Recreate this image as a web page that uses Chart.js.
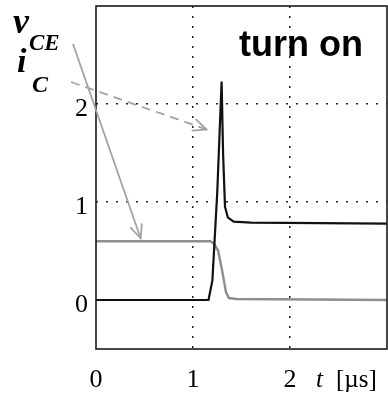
<!DOCTYPE html>
<html>
<head>
<meta charset="utf-8">
<script src="https://cdn.jsdelivr.net/npm/chart.js@4.4.0/dist/chart.umd.min.js"></script>
<style>
  html, body { margin: 0; padding: 0; background: #fff; }
  #wrap { width: 388px; height: 397px; }
</style>
</head>
<body>
<div id="wrap"><canvas id="chart" width="388" height="397"></canvas></div>
<script>
// values (t in microseconds)
const vceTimes = [0, 1.18, 1.22, 1.26, 1.30, 1.34, 1.37, 1.45, 3.0];
const vceValues = [0.6, 0.6, 0.57, 0.5, 0.3, 0.08, 0.02, 0.01, 0.0];
const icTimes = [0, 1.16, 1.20, 1.25, 1.295, 1.31, 1.33, 1.36, 1.42, 1.6, 3.0];
const icValues = [0, 0, 0.2, 1.1, 2.23, 1.5, 0.95, 0.84, 0.8, 0.79, 0.78];
const xTicks = [0, 1, 2];
const yTicks = [0, 1, 2];
const gridAt = [1, 2];

const serif = '"Liberation Serif", "DejaVu Serif", serif';

function pts(ts, vs) {
    return ts.map((t, i) => ({ x: t, y: vs[i] }));
}

function arrow(ctx, x1, y1, x2, y2, dash) {
    ctx.save();
    ctx.strokeStyle = '#a3a3a3';
    ctx.lineWidth = 1.8;
    ctx.setLineDash(dash || []);
    ctx.beginPath();
    ctx.moveTo(x1, y1);
    ctx.lineTo(x2, y2);
    ctx.stroke();
    ctx.setLineDash([]);
    const a = Math.atan2(y2 - y1, x2 - x1);
    const len = 15, spread = 0.42;
    ctx.beginPath();
    ctx.moveTo(x2 - len * Math.cos(a - spread), y2 - len * Math.sin(a - spread));
    ctx.lineTo(x2, y2);
    ctx.lineTo(x2 - len * Math.cos(a + spread), y2 - len * Math.sin(a + spread));
    ctx.stroke();
    ctx.restore();
}

const extras = {
    id: 'extras',
    afterDraw(chart) {
        const { ctx, chartArea: a, scales } = chart;
        const xs = scales.x, ys = scales.y;

        // frame
        ctx.save();
        ctx.strokeStyle = '#1a1a1a';
        ctx.lineWidth = 1.6;
        ctx.strokeRect(a.left, a.top, a.right - a.left, a.bottom - a.top);
        ctx.restore();

        // arrows pointing at the curves
        arrow(ctx, 73, 44, xs.getPixelForValue(0.46), ys.getPixelForValue(0.63));
        arrow(ctx, 71, 82, xs.getPixelForValue(1.14), ys.getPixelForValue(1.74), [9, 6]);

        ctx.save();
        ctx.fillStyle = '#000';
        ctx.textBaseline = 'alphabetic';
        // axis unit label
        ctx.font = 'italic 25px ' + serif;
        ctx.fillText('t', 316, 387);
        ctx.font = '25px ' + serif;
        ctx.fillText('[\u00b5s]', 336, 387);

        // series labels
        ctx.font = 'bold italic 36px ' + serif;
        ctx.fillText('v', 13, 33);
        ctx.font = 'bold italic 23px ' + serif;
        ctx.fillText('CE', 29, 50);
        ctx.font = 'bold italic 34px ' + serif;
        ctx.fillText('i', 17, 72);
        ctx.font = 'bold italic 24px ' + serif;
        ctx.fillText('C', 32, 92);

        ctx.font = 'bold 36px "Liberation Sans", Arial, sans-serif';
        ctx.fillText('turn on', 239, 56);
        ctx.restore();
    }
};

new Chart(document.getElementById('chart'), {
    type: 'line',
    data: {
        datasets: [
            {
                label: 'iC',
                data: pts(icTimes, icValues),
                borderColor: '#111',
                borderWidth: 2.2,
                pointRadius: 0,
                tension: 0,
                order: 1
            },
            {
                label: 'vCE',
                data: pts(vceTimes, vceValues),
                borderColor: '#8e8e8e',
                borderWidth: 2.4,
                pointRadius: 0,
                tension: 0,
                order: 2
            }
        ]
    },
    options: {
        responsive: false,
        animation: false,
        layout: { padding: { top: 6, right: 1, left: 0, bottom: 0 } },
        plugins: { legend: { display: false }, tooltip: { enabled: false } },
        scales: {
            x: {
                type: 'linear',
                min: 0,
                max: 3,
                afterBuildTicks: s => { s.ticks = xTicks.map(v => ({ value: v })); },
                afterFit: s => { s.height = 48; s.paddingLeft = 0; s.paddingRight = 0; },
                ticks: {
                    padding: 16,
                    color: '#000',
                    font: { family: serif, size: 26 },
                    maxRotation: 0,
                    callback: v => String(v)
                },
                grid: {
                    drawTicks: false,
                    lineWidth: 1.5,
                    color: c => gridAt.includes(c.tick && c.tick.value) ? '#222' : 'rgba(0,0,0,0)'
                },
                border: { display: false, dash: [2, 8] }
            },
            y: {
                min: -0.5,
                max: 3,
                afterBuildTicks: s => { s.ticks = yTicks.map(v => ({ value: v })); },
                afterFit: s => { s.width = 96; s.paddingTop = 0; s.paddingBottom = 0; },
                ticks: {
                    padding: 8,
                    labelOffset: 5,
                    color: '#000',
                    font: { family: serif, size: 26 },
                    callback: v => String(v)
                },
                grid: {
                    drawTicks: false,
                    lineWidth: 1.5,
                    color: c => gridAt.includes(c.tick && c.tick.value) ? '#222' : 'rgba(0,0,0,0)'
                },
                border: { display: false, dash: [2, 8] }
            }
        }
    },
    plugins: [extras]
});
</script>
</body>
</html>
